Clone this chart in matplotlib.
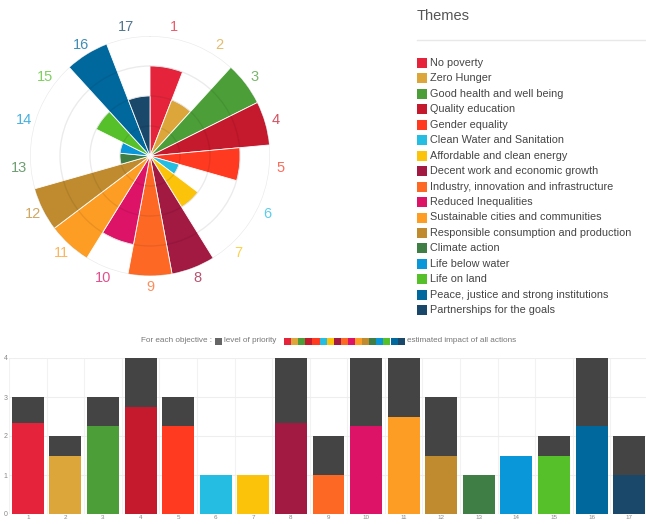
import numpy as np
import matplotlib.pyplot as plt
from matplotlib.patches import Rectangle
from matplotlib.lines import Line2D

plt.rcParams['font.family'] = ['Liberation Sans', 'DejaVu Sans']

# SDG themes
themes = ["No poverty", "Zero Hunger", "Good health and well being", "Quality education",
          "Gender equality", "Clean Water and Sanitation", "Affordable and clean energy",
          "Decent work and economic growth", "Industry, innovation and infrastructure",
          "Reduced Inequalities", "Sustainable cities and communities",
          "Responsible consumption and production", "Climate action", "Life below water",
          "Life on land", "Peace, justice and strong institutions", "Partnerships for the goals"]
colors = ["#E5243B", "#DDA63A", "#4C9F38", "#C5192D", "#FF3A21", "#26BDE2", "#FCC30B",
          "#A21942", "#FD6925", "#DD1367", "#FD9D24", "#BF8B2E", "#3F7E44", "#0A97D9",
          "#56C02B", "#00689D", "#19486A"]
labels = [str(i) for i in range(1, 18)]

# polar area values
polar_values = [3, 2, 4, 4, 3, 1, 2, 4, 4, 3, 4, 4, 1, 1, 2, 4, 2]

# bar chart values
priority = [3, 2, 3, 4, 3, 1, 1, 4, 2, 4, 4, 3, 1, 1, 2, 4, 2]
impact = [2.33, 1.5, 2.25, 2.75, 2.25, 1, 1, 2.33, 1, 2.25, 2.5, 1.5, 1, 1.5, 1.5, 2.25, 1]

W, H = 646, 524
fig = plt.figure(figsize=(W / 100, H / 100), dpi=100)

def fx(px):
    return px / W

def fy(py):
    return 1 - py / H

# ---- polar area chart ----
cx, cy, R = 150, 156, 120
ax = fig.add_axes([fx(cx - R), fy(cy + R), 2 * R / W, 2 * R / H], projection='polar')
ax.set_theta_zero_location('N')
ax.set_theta_direction(-1)
n = len(polar_values)
w = 2 * np.pi / n
theta = np.arange(n) * w
ax.bar(theta, polar_values, width=w, align='edge', color=colors,
       edgecolor='white', linewidth=0.6, zorder=1)
ax.set_ylim(0, 4)
ax.set_yticks([1, 2, 3, 4])
ax.set_yticklabels([])
ax.set_xticks([])
ax.set_axisbelow(False)
ax.grid(True, color='black', alpha=0.08, linewidth=1)
ax.spines['polar'].set_visible(False)
for i in range(n):
    ax.text(theta[i] + w / 2, 4.37, labels[i], color=colors[i], alpha=0.75,
            fontsize=10.5, ha='center', va='center')

# ---- legend "Themes" ----
fig.text(fx(417), fy(16), "Themes", fontsize=10.5, color='#555555', va='center', ha='left')
fig.add_artist(Line2D([fx(417), fx(646)], [fy(40), fy(40)], color='#e8e8e8', linewidth=1))
for i, t in enumerate(themes):
    yy = 63 + i * 15.45
    fig.add_artist(Rectangle((fx(417), fy(yy + 5)), 10 / W, 10 / H,
                             facecolor=colors[i], edgecolor='none', transform=fig.transFigure))
    fig.text(fx(430), fy(yy), t, fontsize=7.8, color='#444444', va='center', ha='left')

# ---- bar chart ----
bx = fig.add_axes([fx(9), fy(514), 639 / W, 156 / H])
x = np.arange(n)
bx.bar(x, priority, width=0.85, color='#444444', zorder=2)
bx.bar(x, impact, width=0.85, color=colors, zorder=3)
bx.set_xlim(-0.5, n - 0.5)
bx.set_ylim(0, 4)
bx.set_yticks([0, 1, 2, 3, 4])
bx.set_yticklabels(['0', '1', '2', '3', '4'], fontsize=5, color='#888888')
bx.set_xticks(x)
bx.set_xticklabels(labels, fontsize=4.5, color='#888888')
bx.tick_params(length=0, pad=1)
bx.set_xticks(np.arange(-0.5, n), minor=True)
bx.tick_params(which='minor', length=0)
bx.grid(True, axis='y', color='#eeeeee', linewidth=0.8, zorder=0)
bx.grid(True, axis='x', which='minor', color='#f2f2f2', linewidth=0.8, zorder=0)
bx.grid(False, axis='x', which='major')
for s in bx.spines.values():
    s.set_visible(False)

# bottom legend
ly = fy(341)
fs = 5.9
fig.text(fx(212), ly, "For each objective :", fontsize=fs, color='#777777', ha='right', va='center')
fig.add_artist(Rectangle((fx(215), fy(344.5)), 7 / W, 7 / H, facecolor='#666666',
                         edgecolor='none', transform=fig.transFigure))
fig.text(fx(224), ly, "level of priority", fontsize=fs, color='#777777', ha='left', va='center')
for i in range(n):
    fig.add_artist(Rectangle((fx(284 + i * 7.1), fy(344.5)), 7.1 / W, 7 / H,
                             facecolor=colors[i], edgecolor='none', transform=fig.transFigure))
fig.text(fx(407), ly, "estimated impact of all actions", fontsize=fs, color='#777777',
         ha='left', va='center')

fig.savefig('out.png', dpi=100)
